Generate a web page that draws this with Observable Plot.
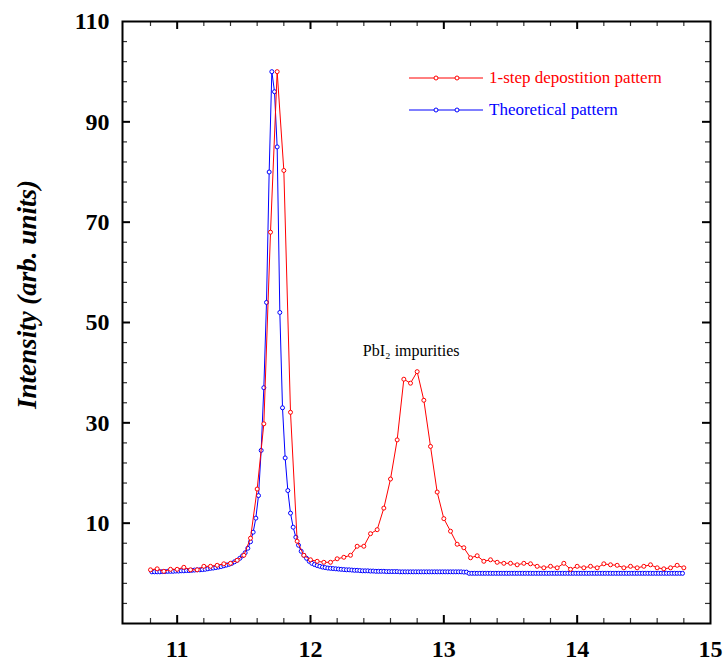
<!DOCTYPE html>
<html>
<head>
<meta charset="utf-8">
<script src="https://cdn.jsdelivr.net/npm/d3@7"></script>
<script src="https://cdn.jsdelivr.net/npm/@observablehq/plot@0.6"></script>
<style>
  body { margin: 0; background: #fff; }
  #wrap { position: relative; width: 726px; height: 668px; }
  .leg { position: absolute; left: 409px; font-family: "Liberation Serif", "Times New Roman", serif; font-size: 17px; white-space: nowrap; display: flex; align-items: center; height: 16px; }
  .leg svg { margin-right: 5px; flex: none; }
</style>
</head>
<body>
<div id="wrap"></div>
<script>
// ---------- data ----------
const seriesNames = ["1-step depostition pattern", "Theoretical pattern"];
const annotationText = "PbI\u2082 impurities";
const yTitle = "Intensity (arb. units)";

const redTheta = [
  10.80,10.85,10.90,10.95,11.00,11.05,11.10,11.15,11.20,11.25,11.30,11.35,11.40,11.45,11.50,11.55,11.60,11.65,11.70,11.75,
  11.80,11.85,11.90,11.95,12.00,12.05,12.10,12.15,12.20,12.25,12.30,12.35,12.40,12.45,12.50,12.55,12.60,12.65,12.70,12.75,
  12.80,12.85,12.90,12.95,13.00,13.05,13.10,13.15,13.20,13.25,13.30,13.35,13.40,13.45,13.50,13.55,13.60,13.65,13.70,13.75,
  13.80,13.85,13.90,13.95,14.00,14.05,14.10,14.15,14.20,14.25,14.30,14.35,14.40,14.45,14.50,14.55,14.60,14.65,14.70,14.75,
  14.80
];
const redIntensity = [
  0.7,0.9,0.4,0.8,0.8,1.2,0.7,0.7,1.4,1.4,1.6,1.9,2.0,2.6,3.6,7.0,16.8,29.8,68.0,100.0,
  80.3,32.1,6.4,3.6,2.7,2.4,2.2,2.2,2.9,3.2,3.6,5.4,5.4,7.9,8.7,13.0,18.8,26.6,38.7,37.9,
  40.2,34.5,25.3,16.2,10.9,8.4,5.8,5.1,3.1,3.5,2.4,2.7,2.2,2.0,2.0,1.7,2.0,1.9,1.4,1.1,
  1.4,1.1,2.0,0.8,1.4,1.1,1.4,1.1,1.9,1.7,1.6,1.1,1.4,1.1,1.4,1.7,1.1,0.9,1.1,1.6,
  1.1
];

const blueTheta = [
  10.81,10.83,10.85,10.87,10.89,10.91,10.93,10.95,10.97,10.99,
  11.01,11.03,11.05,11.07,11.09,11.11,11.13,11.15,11.17,11.19,
  11.21,11.23,11.25,11.27,11.29,11.31,11.33,11.35,11.37,11.39,
  11.41,11.43,11.45,11.47,11.49,11.51,11.53,11.55,11.57,11.59,
  11.61,11.63,11.65,11.67,11.69,11.71,11.73,11.75,11.77,11.79,
  11.81,11.83,11.85,11.87,11.89,11.91,11.93,11.95,11.97,11.99,
  12.01,12.03,12.05,12.07,12.09,12.11,12.13,12.15,12.17,12.19,
  12.21,12.23,12.25,12.27,12.29,12.31,12.33,12.35,12.37,12.39,
  12.41,12.43,12.45,12.47,12.49,12.51,12.53,12.55,12.57,12.59,
  12.61,12.63,12.65,12.67,12.69,12.71,12.73,12.75,12.77,12.79,
  12.81,12.83,12.85,12.87,12.89,12.91,12.93,12.95,12.97,12.99,
  13.01,13.03,13.05,13.07,13.09,13.11,13.13,13.15,13.17,13.19,
  13.21,13.23,13.25,13.27,13.29,13.31,13.33,13.35,13.37,13.39,
  13.41,13.43,13.45,13.47,13.49,13.51,13.53,13.55,13.57,13.59,
  13.61,13.63,13.65,13.67,13.69,13.71,13.73,13.75,13.77,13.79,
  13.81,13.83,13.85,13.87,13.89,13.91,13.93,13.95,13.97,13.99,
  14.01,14.03,14.05,14.07,14.09,14.11,14.13,14.15,14.17,14.19,
  14.21,14.23,14.25,14.27,14.29,14.31,14.33,14.35,14.37,14.39,
  14.41,14.43,14.45,14.47,14.49,14.51,14.53,14.55,14.57,14.59,
  14.61,14.63,14.65,14.67,14.69,14.71,14.73,14.75,14.77,14.79
];
const blueIntensity = [
  0.3,0.3,0.3,0.3,0.35,0.35,0.4,0.4,0.4,0.45,
  0.45,0.5,0.5,0.55,0.55,0.6,0.65,0.7,0.7,0.75,
  0.8,0.9,1.0,1.05,1.15,1.25,1.35,1.5,1.65,1.8,
  2.0,2.3,2.6,3.0,3.5,4.1,5.0,6.3,8.2,11.0,
  15.5,24.5,37.0,54.0,80.0,100.0,96.0,85.0,52.0,33.0,
  23.0,16.5,12.0,9.2,7.2,5.6,4.4,3.6,3.0,2.4,
  2.0,1.75,1.55,1.4,1.25,1.15,1.05,1.0,0.95,0.9,
  0.85,0.8,0.75,0.7,0.7,0.65,0.6,0.6,0.55,0.5,
  0.5,0.5,0.45,0.45,0.4,0.4,0.4,0.4,0.35,0.35,
  0.35,0.35,0.35,0.3,0.3,0.3,0.3,0.3,0.3,0.3,
  0.3,0.3,0.3,0.3,0.3,0.3,0.3,0.3,0.3,0.3,
  0.3,0.3,0.3,0.3,0.3,0.3,0.3,0.25,0.25,0.0,
  0.0,0.0,0.0,0.0,0.0,0.0,0.0,0.0,0.0,0.0,
  0.0,0.0,0.0,0.0,0.0,0.0,0.0,0.0,0.0,0.0,
  0.0,0.0,0.0,0.0,0.0,0.0,0.0,0.0,0.0,0.0,
  0.0,0.0,0.0,0.0,0.0,0.0,0.0,0.0,0.0,0.0,
  0.0,0.0,0.0,0.0,0.0,0.0,0.0,0.0,0.0,0.0,
  0.0,0.0,0.0,0.0,0.0,0.0,0.0,0.0,0.0,0.0,
  0.0,0.0,0.0,0.0,0.0,0.0,0.0,0.0,0.0,0.0,
  0.0,0.0,0.0,0.0,0.0,0.0,0.0,0.0,0.0,0.0
];

const xTickLabels = [11, 12, 13, 14, 15];
const yTickLabels = [10, 30, 50, 70, 90, 110];

// ---------- build ----------
const red = redTheta.map((t, i) => ({theta: t, intensity: redIntensity[i]}));
const blue = blueTheta.map((t, i) => ({theta: t, intensity: blueIntensity[i]}));

const RED = "#ff0000", BLUE = "#0000ff";
const serif = "'Liberation Serif', 'Times New Roman', serif";
const W = 726, H = 668, mL = 122, mR = 16, mT = 21, mB = 45;
const plotW = W - mL - mR, plotH = H - mT - mB;

const xMajor = [11, 12, 13, 14];
const xMinor = d3.range(10.8, 14.81, 0.2).filter(v => Math.abs(v - Math.round(v)) > 1e-6);
const yMajor = [10, 30, 50, 70, 90];
const yMinor = d3.range(-6, 109, 4).filter(v => ((v - 10) % 20 + 20) % 20 !== 0);

// PbI2 peak: the maximum of the red pattern beyond the main reflection
const secondPeak = red.filter(d => d.theta > 12.3).reduce((a, b) => (b.intensity > a.intensity ? b : a));

const chart = Plot.plot({
  width: W, height: H,
  marginLeft: mL, marginRight: mR, marginTop: mT, marginBottom: mB,
  style: {background: "white", fontFamily: serif, color: "#000"},
  x: {domain: [10.59, 15], label: null},
  y: {domain: [-10, 110], label: null},
  marks: [
    // ticks (inward) on all four sides
    Plot.tickX(xMajor, {x: d => d, insetTop: plotH - 8, stroke: "#000", strokeWidth: 2}),
    Plot.tickX(xMinor, {x: d => d, insetTop: plotH - 5, stroke: "#333", strokeWidth: 1.2}),
    Plot.tickX(xMajor, {x: d => d, insetBottom: plotH - 8, stroke: "#000", strokeWidth: 2}),
    Plot.tickX(xMinor, {x: d => d, insetBottom: plotH - 5, stroke: "#333", strokeWidth: 1.2}),
    Plot.tickY(yMajor, {y: d => d, insetRight: plotW - 8, stroke: "#000", strokeWidth: 2}),
    Plot.tickY(yMinor, {y: d => d, insetRight: plotW - 5, stroke: "#333", strokeWidth: 1.2}),
    Plot.tickY(yMajor, {y: d => d, insetLeft: plotW - 8, stroke: "#000", strokeWidth: 2}),
    Plot.tickY(yMinor, {y: d => d, insetLeft: plotW - 5, stroke: "#333", strokeWidth: 1.2}),
    Plot.frame({stroke: "#000", strokeWidth: 2}),
    // tick labels
    Plot.axisX(xTickLabels, {tickSize: 0, tickPadding: 16, tickFormat: d => String(d), fontSize: 24, fontWeight: "bold", fontFamily: serif, label: null}),
    Plot.axisY(yTickLabels, {tickSize: 0, tickPadding: 13, tickFormat: d => String(d), fontSize: 24, fontWeight: "bold", fontFamily: serif, label: null}),
    // y title
    Plot.text([yTitle], {frameAnchor: "left", textAnchor: "middle", lineAnchor: "middle", rotate: -90, dx: -95, dy: -28, fontSize: 27, fontWeight: "bold", fontStyle: "italic", fontFamily: serif, fill: "#000"}),
    // theoretical pattern
    Plot.line(blue, {x: "theta", y: "intensity", stroke: BLUE, strokeWidth: 1}),
    Plot.dot(blue, {x: "theta", y: "intensity", r: 2, stroke: BLUE, fill: "white", strokeWidth: 1}),
    // 1-step pattern
    Plot.line(red, {x: "theta", y: "intensity", stroke: RED, strokeWidth: 1}),
    Plot.dot(red, {x: "theta", y: "intensity", r: 2, stroke: RED, fill: "white", strokeWidth: 1}),
    // annotation
    Plot.text([secondPeak], {x: "theta", y: "intensity", text: () => annotationText, dx: -6, dy: -21, fontSize: 16, fontFamily: serif, fill: "#000"})
  ]
});

const wrap = document.getElementById("wrap");
wrap.appendChild(chart);

// legend (inside the plot area, top right)
const legendColors = [RED, BLUE];
const legendTops = [70, 102];
seriesNames.forEach((name, i) => {
  const div = document.createElement("div");
  div.className = "leg";
  div.style.top = legendTops[i] + "px";
  div.style.color = legendColors[i];
  div.innerHTML =
    `<svg width="75" height="16"><line x1="0" y1="8" x2="74" y2="8" stroke="${legendColors[i]}" stroke-width="1"/>` +
    `<circle cx="27" cy="8" r="2" stroke="${legendColors[i]}" fill="white"/>` +
    `<circle cx="48" cy="8" r="2" stroke="${legendColors[i]}" fill="white"/></svg>` +
    `<span>${name}</span>`;
  wrap.appendChild(div);
});
</script>
</body>
</html>
